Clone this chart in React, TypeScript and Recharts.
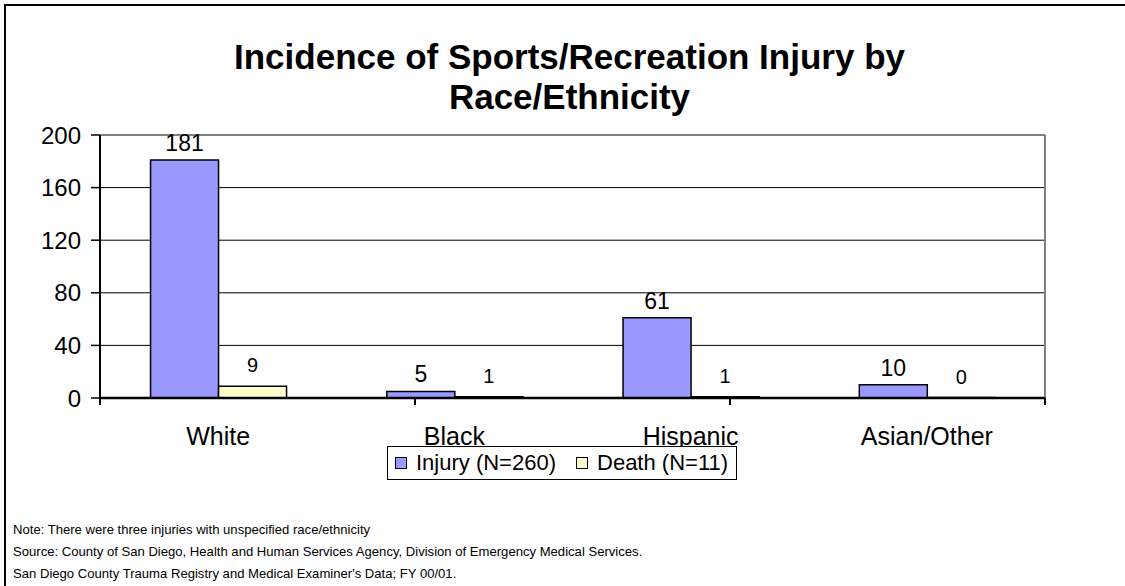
import React from 'react';
import { BarChart, Bar, XAxis, YAxis, CartesianGrid, LabelList, Legend, ReferenceLine } from 'recharts';

const categories = ['White', 'Black', 'Hispanic', 'Asian/Other'];
const injuryValues = [181, 5, 61, 10];
const deathValues = [9, 1, 1, 0];
const yTicks = [0, 40, 80, 120, 160, 200];
const gridValues = [40, 80, 120, 160];
const boundaryTicks = [0, 1, 2, 3, 4];
const seriesNames = ['Injury (N=260)', 'Death (N=11)'];
const seriesColors = ['#9999FF', '#FFFFCC'];
const titleLines = ['Incidence of Sports/Recreation Injury by', 'Race/Ethnicity'];
const noteLines = [
  'Note: There were three injuries with unspecified race/ethnicity',
  'Source: County of San Diego, Health and Human Services Agency, Division of Emergency Medical Services.',
  "San Diego County Trauma Registry and Medical Examiner's Data; FY 00/01.",
];

const data = categories.map((name, i) => ({ name, injury: injuryValues[i], death: deathValues[i] }));

const FONT = '"Liberation Sans", Arial, Helvetica, sans-serif';

const renderLegend = () => (
  <div
    style={{
      border: '1.5px solid #000',
      height: 34,
      boxSizing: 'border-box',
      display: 'flex',
      alignItems: 'center',
      fontFamily: FONT,
      fontSize: 22,
      color: '#000',
      background: '#fff',
      paddingLeft: 7,
      whiteSpace: 'nowrap',
    }}
  >
    {seriesNames.map((n, i) => (
      <span key={n} style={{ display: 'flex', alignItems: 'center', marginLeft: i === 0 ? 0 : 20 }}>
        <span
          style={{
            display: 'inline-block',
            width: 10,
            height: 10,
            border: '1.5px solid #000',
            background: seriesColors[i],
            marginRight: 9,
          }}
        />
        {n}
      </span>
    ))}
  </div>
);

const makeLabel = (offset: number, fontSize: number) => (props: any) => {
  const { x, y, width, value } = props;
  if (x == null || y == null) return null;
  return (
    <text
      x={Number(x) + Number(width) / 2}
      y={Number(y) - offset}
      textAnchor="middle"
      fill="#000"
      fontSize={fontSize}
      fontFamily={FONT}
    >
      {value}
    </text>
  );
};

const emptyTick = () => <g />;

export default function App() {
  return (
    <div style={{ position: 'absolute', left: 0, top: 0, width: 1125, height: 586, background: '#fff', overflow: 'hidden', fontFamily: FONT }}>
      <div style={{ position: 'absolute', left: 4, top: 4, width: 1130, height: 600, borderTop: '2.5px solid #000', borderLeft: '2.5px solid #000', boxSizing: 'border-box' }} />
      <div
        style={{
          position: 'absolute',
          left: 0,
          top: 37,
          width: 1125,
          paddingLeft: 14,
          boxSizing: 'border-box',
          textAlign: 'center',
          fontWeight: 'bold',
          fontSize: 35,
          lineHeight: '40px',
          color: '#000',
        }}
      >
        {titleLines.map((t) => (
          <div key={t}>{t}</div>
        ))}
      </div>
      <div style={{ position: 'absolute', left: 0, top: 0 }}>
        <BarChart
          width={1125}
          height={586}
          data={data}
          margin={{ top: 135, right: 79, bottom: 186, left: 0 }}
          barCategoryGap="21.4%"
          barGap={0}
        >
          <CartesianGrid
            xAxisId="c"
            yAxisId="l"
            vertical={false}
            horizontalValues={gridValues}
            stroke="#000"
            strokeWidth={1}
          />
          <YAxis
            yAxisId="l"
            width={100}
            domain={[0, 200]}
            ticks={yTicks}
            interval={0}
            tickSize={9}
            tickMargin={10}
            axisLine={{ stroke: '#000', strokeWidth: 2 }}
            tickLine={{ stroke: '#000', strokeWidth: 1.5 }}
            tick={{ fill: '#000', fontSize: 24, fontFamily: FONT }}
          />
          <YAxis
            yAxisId="r"
            orientation="right"
            width={1}
            domain={[0, 200]}
            ticks={yTicks}
            tick={false}
            tickLine={false}
            axisLine={{ stroke: '#808080', strokeWidth: 2 }}
          />
          <XAxis
            xAxisId="b"
            type="number"
            domain={[0, 4]}
            allowDataOverflow
            ticks={boundaryTicks}
            interval={0}
            height={1}
            tick={emptyTick}
            tickFormatter={() => ''}
            tickSize={7}
            axisLine={{ stroke: '#000', strokeWidth: 2.5 }}
            tickLine={{ stroke: '#000', strokeWidth: 2 }}
          />
          <XAxis
            xAxisId="c"
            dataKey="name"
            height={1}
            axisLine={false}
            tickLine={false}
            tickSize={0}
            tickMargin={28}
            interval={0}
            tick={{ fill: '#000', fontSize: 25, fontFamily: FONT }}
          />
          <ReferenceLine xAxisId="c" yAxisId="l" y={200} stroke="#808080" strokeWidth={2} />
          <Bar xAxisId="c" yAxisId="l" dataKey="injury" name={seriesNames[0]} fill={seriesColors[0]} stroke="#000" strokeWidth={1.5} isAnimationActive={false}>
            <LabelList dataKey="injury" content={makeLabel(9, 23)} />
          </Bar>
          <Bar xAxisId="c" yAxisId="l" dataKey="death" name={seriesNames[1]} fill={seriesColors[1]} stroke="#000" strokeWidth={1.5} minPointSize={0.5} isAnimationActive={false}>
            <LabelList dataKey="death" content={makeLabel(14, 20)} />
          </Bar>
          <Legend
            layout="horizontal"
            verticalAlign="middle"
            align="center"
            width={350}
            content={renderLegend}
            wrapperStyle={{ left: 387, top: 446, width: 350 }}
          />
        </BarChart>
      </div>
      <div style={{ position: 'absolute', left: 13, top: 519, fontSize: 13.1, lineHeight: '22px', color: '#000', whiteSpace: 'nowrap' }}>
        {noteLines.map((t) => (
          <div key={t}>{t}</div>
        ))}
      </div>
    </div>
  );
}
